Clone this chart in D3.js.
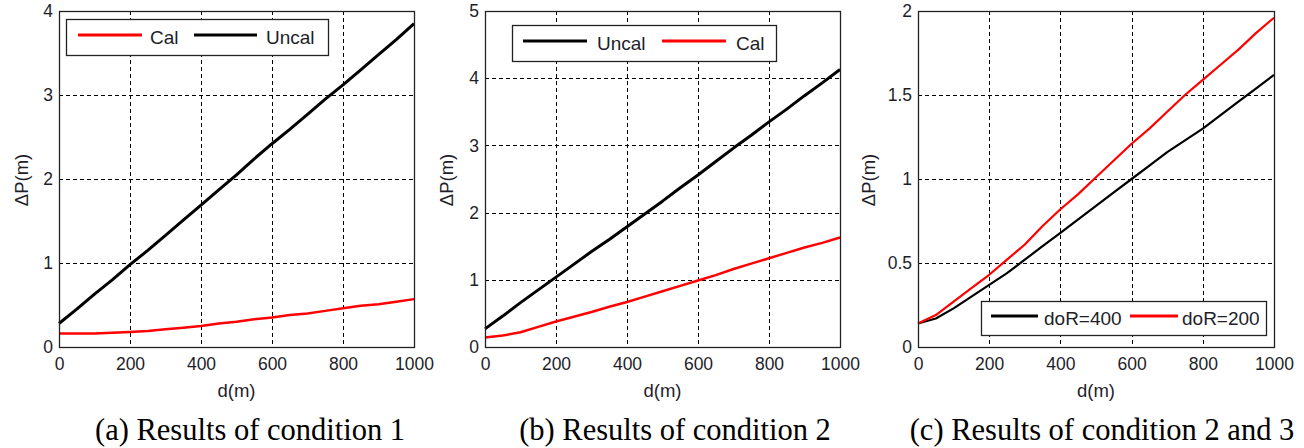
<!DOCTYPE html>
<html>
<head>
<meta charset="utf-8">
<script src="https://cdn.jsdelivr.net/npm/d3@7"></script>
<style>
  body { margin: 0; background: #fff; }
  svg text { font-family: "Liberation Sans", Arial, sans-serif; fill: #1e1e2a; }
  .caption { font-family: "Liberation Serif", "Times New Roman", serif; fill: #000; }
</style>
</head>
<body>
<script>
// distances along x (m)
var distances = [0, 50, 100, 150, 200, 250, 300, 350, 400, 450, 500, 550, 600, 650, 700, 750, 800, 850, 900, 950, 1000];

// (a) condition 1
var uncalA = [0.28, 0.45, 0.63, 0.80, 0.98, 1.15, 1.33, 1.51, 1.69, 1.87, 2.05, 2.24, 2.42, 2.59, 2.77, 2.95, 3.12, 3.30, 3.48, 3.66, 3.85];
var calA   = [0.16, 0.16, 0.16, 0.17, 0.18, 0.19, 0.21, 0.23, 0.25, 0.28, 0.30, 0.33, 0.35, 0.38, 0.40, 0.43, 0.46, 0.49, 0.51, 0.54, 0.57];

// (b) condition 2
var uncalB = [0.27, 0.46, 0.66, 0.85, 1.04, 1.23, 1.42, 1.60, 1.79, 1.98, 2.17, 2.37, 2.56, 2.76, 2.96, 3.15, 3.35, 3.54, 3.74, 3.93, 4.13];
var calB   = [0.14, 0.17, 0.22, 0.30, 0.38, 0.45, 0.52, 0.60, 0.67, 0.75, 0.83, 0.91, 0.99, 1.07, 1.16, 1.24, 1.32, 1.40, 1.48, 1.55, 1.63];

// (c) condition 2 and 3
var dor400 = [0.14, 0.17, 0.23, 0.30, 0.37, 0.44, 0.52, 0.60, 0.68, 0.76, 0.84, 0.92, 1.00, 1.08, 1.16, 1.23, 1.30, 1.38, 1.46, 1.54, 1.62];
var dor200 = [0.14, 0.19, 0.27, 0.35, 0.43, 0.52, 0.61, 0.72, 0.82, 0.91, 1.01, 1.11, 1.21, 1.30, 1.40, 1.50, 1.59, 1.68, 1.77, 1.87, 1.96];

var xTicks = [0, 200, 400, 600, 800, 1000];
var yTicksA = [0, 1, 2, 3, 4];
var yTicksB = [0, 1, 2, 3, 4, 5];
var yTicksC = [0, 0.5, 1, 1.5, 2];

var panels = [
  { left: 59, right: 414, yMax: 4, yTicks: yTicksA, ylabX: 28,
    caption: "(a) Results of condition 1", capX: 250,
    series: [ { name: "Cal", values: calA, color: "#ff0000", width: 2.5 },
              { name: "Uncal", values: uncalA, color: "#000", width: 3 } ],
    legend: { x: 66, y: 19, w: 262, h: 36, items: [ { s: 0, x1: 78, x2: 142, tx: 150 }, { s: 1, x1: 194, x2: 257, tx: 266 } ] } },
  { left: 485, right: 840, yMax: 5, yTicks: yTicksB, ylabX: 453,
    caption: "(b) Results of condition 2", capX: 675,
    series: [ { name: "Cal", values: calB, color: "#ff0000", width: 2.5 },
              { name: "Uncal", values: uncalB, color: "#000", width: 3 } ],
    legend: { x: 512, y: 25, w: 264, h: 36, items: [ { s: 1, x1: 523, x2: 587, tx: 597 }, { s: 0, x1: 662, x2: 726, tx: 736 } ] } },
  { left: 918, right: 1274, yMax: 2, yTicks: yTicksC, ylabX: 875,
    caption: "(c) Results of condition 2 and 3", capX: 1102,
    series: [ { name: "doR=400", values: dor400, color: "#000", width: 2.2 },
              { name: "doR=200", values: dor200, color: "#ff0000", width: 2.2 } ],
    legend: { x: 981, y: 301, w: 285, h: 34, items: [ { s: 0, x1: 991, x2: 1038, tx: 1044 }, { s: 1, x1: 1130, x2: 1178, tx: 1182 } ] } }
];

var plotTop = 11, plotBottom = 347;

var svg = d3.select("body").append("svg")
    .attr("width", 1304)
    .attr("height", 448);

panels.forEach(function(p) {
  var x = d3.scaleLinear().domain([0, 1000]).range([p.left, p.right]);
  var y = d3.scaleLinear().domain([0, p.yMax]).range([plotBottom, plotTop]);
  var g = svg.append("g");

  // grid
  g.selectAll("line.vgrid")
    .data(xTicks.slice(1, -1))
    .enter().append("line")
    .attr("x1", d => Math.round(x(d)) + 0.5).attr("x2", d => Math.round(x(d)) + 0.5)
    .attr("y1", plotTop).attr("y2", plotBottom)
    .attr("stroke", "#000").attr("stroke-width", 1)
    .attr("stroke-dasharray", "4,3");
  g.selectAll("line.hgrid")
    .data(p.yTicks.slice(1, -1))
    .enter().append("line")
    .attr("x1", p.left).attr("x2", p.right)
    .attr("y1", d => Math.round(y(d)) + 0.5).attr("y2", d => Math.round(y(d)) + 0.5)
    .attr("stroke", "#000").attr("stroke-width", 1)
    .attr("stroke-dasharray", "4,3");

  // series
  var line = d3.line()
    .x((d, i) => x(distances[i]))
    .y(d => y(d));
  p.series.forEach(function(s) {
    g.append("path")
      .datum(s.values)
      .attr("d", line)
      .attr("fill", "none")
      .attr("stroke", s.color)
      .attr("stroke-width", s.width)
      .attr("stroke-linejoin", "round");
  });

  // axes
  var xAxis = g.append("g")
    .attr("transform", "translate(0," + plotBottom + ")")
    .call(d3.axisBottom(x).tickValues(xTicks).tickFormat(d3.format("d")).tickSize(0).tickPadding(0));
  xAxis.select(".domain").remove();
  xAxis.selectAll("text").style("font-size", "17.5px").attr("y", 23).attr("dy", null);

  var yAxis = g.append("g")
    .attr("transform", "translate(" + p.left + ",0)")
    .call(d3.axisLeft(y).tickValues(p.yTicks).tickFormat(d => String(d)).tickSize(0).tickPadding(6));
  yAxis.select(".domain").remove();
  yAxis.selectAll("text").style("font-size", "17.5px");

  // frame
  g.append("rect")
    .attr("x", p.left + 0.5).attr("y", plotTop + 0.5)
    .attr("width", p.right - p.left).attr("height", plotBottom - plotTop)
    .attr("fill", "none").attr("stroke", "#222").attr("stroke-width", 1.3);

  // legend
  var L = p.legend;
  g.append("rect")
    .attr("x", L.x + 0.5).attr("y", L.y + 0.5).attr("width", L.w).attr("height", L.h)
    .attr("fill", "#fff").attr("stroke", "#222").attr("stroke-width", 1.3);
  L.items.forEach(function(it) {
    var s = p.series[it.s];
    var ly = L.y + L.h / 2;
    g.append("line")
      .attr("x1", it.x1).attr("x2", it.x2).attr("y1", ly - 2).attr("y2", ly - 2)
      .attr("stroke", s.color).attr("stroke-width", 3);
    g.append("text")
      .attr("x", it.tx).attr("y", ly)
      .attr("dy", "0.35em")
      .style("font-size", "19px")
      .text(s.name);
  });

  // axis labels
  g.append("text")
    .attr("x", (p.left + p.right) / 2).attr("y", 397)
    .attr("text-anchor", "middle")
    .style("font-size", "18.5px")
    .text("d(m)");
  g.append("text")
    .attr("transform", "translate(" + p.ylabX + ",180) rotate(-90)")
    .attr("text-anchor", "middle")
    .style("font-size", "18.5px")
    .text("ΔP(m)");

  // caption
  g.append("text")
    .attr("class", "caption")
    .attr("x", p.capX).attr("y", 440)
    .attr("text-anchor", "middle")
    .style("font-size", "30.5px")
    .text(p.caption);
});
</script>
</body>
</html>
